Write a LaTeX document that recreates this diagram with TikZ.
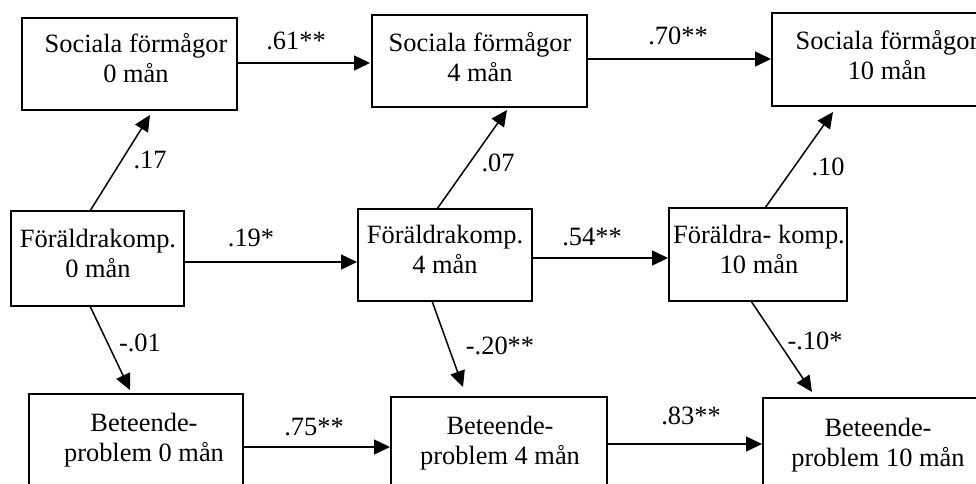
\documentclass[tikz,border=0pt]{standalone}
\usepackage{fontspec}
\setmainfont{Liberation Serif}
\usetikzlibrary{arrows.meta}
\begin{document}
\begin{tikzpicture}[x=1pt,y=-1pt,
  box/.style={draw, line width=1.8pt, rectangle, inner sep=0pt, outer sep=0pt},
  txt/.style={inner sep=0pt, align=center, font=\fontsize{26.4}{30}\selectfont},
  lab/.style={inner sep=0pt, font=\fontsize{26.4}{30}\selectfont},
  arr/.style={-{Triangle[length=16pt,width=15pt]}, line width=1.5pt}]
\clip (0,0) rectangle (976,483);
\fill[white] (0,0) rectangle (976,483);

% boxes
\node[box, minimum width=215pt, minimum height=92pt] (sf0) at (129.5,64) {};
\node[box, minimum width=215pt, minimum height=92pt] (sf4) at (479.5,61) {};
\node[box, minimum width=218pt, minimum height=93pt] (sf10) at (881,59.5) {};
\node[box, minimum width=173pt, minimum height=95pt] (fk0) at (97.5,258.5) {};
\node[box, minimum width=174pt, minimum height=92pt] (fk4) at (445,255) {};
\node[box, minimum width=178pt, minimum height=93pt] (fk10) at (758,254.5) {};
\node[box, minimum width=214pt, minimum height=92pt] (bp0) at (136,440) {};
\node[box, minimum width=216pt, minimum height=92pt] (bp4) at (499,443) {};
\node[box, minimum width=217pt, minimum height=92pt] (bp10) at (871.5,444) {};

% box texts
\node[txt] (sf0t) at (136,58.5) {Sociala förmågor\\0 mån};
\node[txt] (sf4t) at (480,57.5) {Sociala förmågor\\4 mån};
\node[txt] (sf10t) at (887,55.5) {Sociala förmågor\\10 mån};
\node[txt] (fk0t) at (98,253) {Föräldrakomp.\\0 mån};
\node[txt] (fk4t) at (445,249) {Föräldrakomp.\\4 mån};
\node[txt] (fk10t) at (759,249) {Föräldra- komp.\\10 mån};
\node[txt] (bp0t) at (144,440) {Beteende-\\problem 0 mån};
\node[txt] (bp4t) at (500,443) {Beteende-\\problem 4 mån};
\node[txt] (bp10t) at (878,445) {Beteende-\\problem 10 mån};

% horizontal arrows
\draw[arr, shorten >=2pt] (sf0.east |- 0,63) -- (sf4.west |- 0,63);
\draw[arr, shorten >=1pt] (sf4.east |- 0,59) -- (sf10.west |- 0,59);
\draw[arr, shorten >=1pt] (fk0.east |- 0,262) -- (fk4.west |- 0,262);
\draw[arr, shorten >=1pt] (fk4.east |- 0,258) -- (fk10.west |- 0,258);
\draw[arr, shorten >=1pt] (bp0.east |- 0,447) -- (bp4.west |- 0,447);
\draw[arr, shorten >=1pt] (bp4.east |- 0,444) -- (bp10.west |- 0,444);

% diagonal arrows
\draw[arr] ([xshift=-7.5pt]fk0.north) -- ([xshift=20.5pt,yshift=-5pt]sf0.south);
\draw[arr] ([xshift=-8pt]fk4.north) -- ([xshift=27.5pt,yshift=-3pt]sf4.south);
\draw[arr] ([xshift=7pt]fk10.north) -- ([xshift=-48pt,yshift=-6pt]sf10.south);
\draw[arr] ([xshift=-7.5pt]fk0.south) -- ([xshift=-6pt,yshift=4pt]bp0.north);
\draw[arr] ([xshift=-13pt]fk4.south) -- ([xshift=-36pt,yshift=10pt]bp4.north);
\draw[arr] ([xshift=-7pt]fk10.south) -- ([xshift=-59.5pt,yshift=6pt]bp10.north);

% labels
\node[lab] (l61) at (296,41) {.61**};
\node[lab] (l70) at (678,36) {.70**};
\node[lab] (l17) at (150,160) {.17};
\node[lab] (l07) at (498,163) {.07};
\node[lab] (l10) at (828,167) {.10};
\node[lab] (l19) at (251,238) {.19*};
\node[lab] (l54) at (592,237) {.54**};
\node[lab] (l01) at (140,343) {-.01};
\node[lab] (l20) at (500,346) {-.20**};
\node[lab] (l10b) at (815,341) {-.10*};
\node[lab] (l75) at (314,427) {.75**};
\node[lab] (l83) at (691,416) {.83**};
\end{tikzpicture}
\end{document}
